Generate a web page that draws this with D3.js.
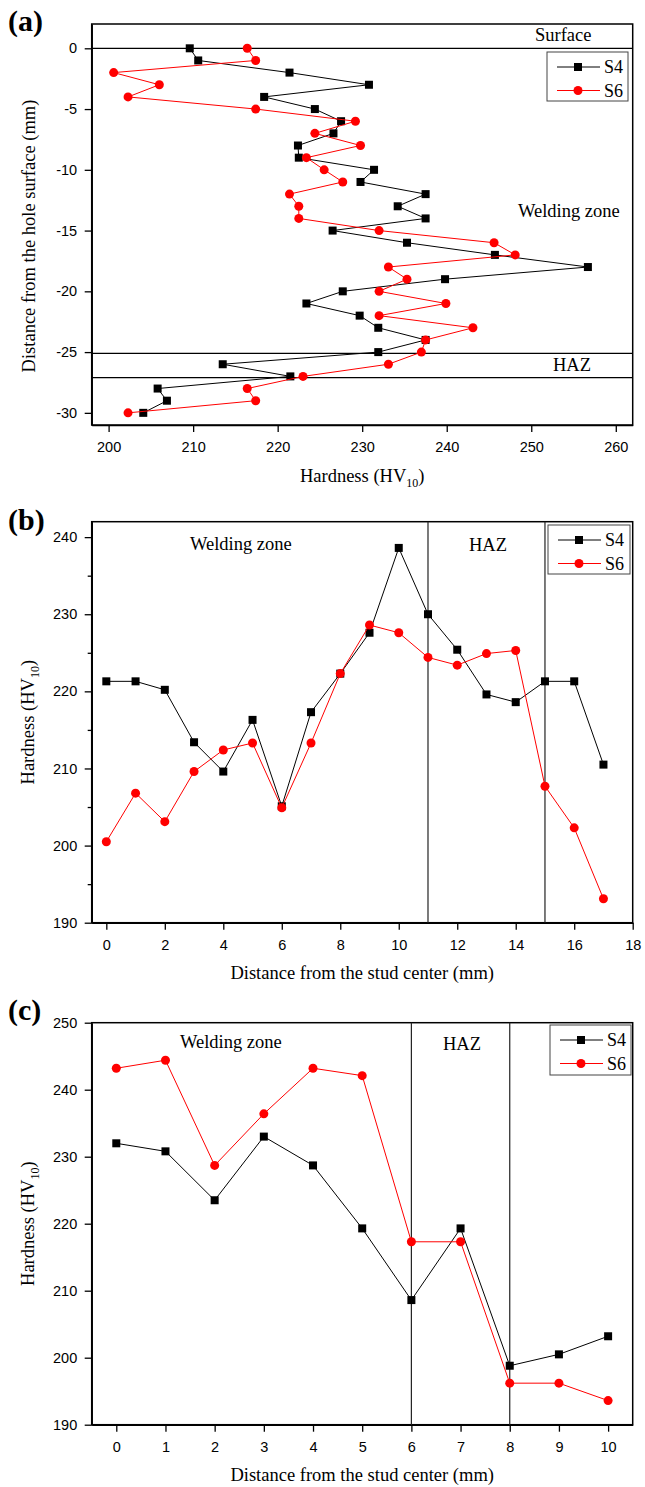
<!DOCTYPE html>
<html>
<head>
<meta charset="utf-8">
<script src="https://cdn.jsdelivr.net/npm/d3@7"></script>
<style>
  body { margin: 0; background: #fff; }
  .tick text { font-family: "Liberation Sans", Arial, sans-serif; font-size: 14.5px; fill: #000; }
  .serif { font-family: "Liberation Serif", "Times New Roman", serif; fill: #000; }
</style>
</head>
<body>
<script>
// ---- data ----
// (a) hardness along the depth below the hole surface
var depthA = [0, -1, -2, -3, -4, -5, -6, -7, -8, -9, -10, -11, -12, -13, -14, -15,
    -16, -17, -18, -19, -20, -21, -22, -23, -24, -25, -26, -27, -28, -29, -30];
var s4A = [209.6, 210.6, 221.4, 230.8, 218.4, 224.4, 227.5, 226.6, 222.4, 222.5, 231.4,
    229.8, 237.5, 234.2, 237.5, 226.5, 235.3, 245.7, 256.7, 239.8, 227.7, 223.4, 229.7,
    231.9, 237.5, 231.9, 213.5, 221.5, 205.8, 206.9, 204.1];
var s6A = [216.4, 217.4, 200.6, 206.0, 202.3, 217.4, 229.2, 224.4, 229.8, 223.4, 225.5,
    227.7, 221.4, 222.5, 222.5, 232.0, 245.6, 248.1, 233.1, 235.3, 232.0, 239.9, 232.0,
    243.1, 237.5, 237.0, 233.1, 223.0, 216.4, 217.4, 202.3];
var zoneLinesA = [0, -25.1, -27.1];
var xTicksA = [200, 210, 220, 230, 240, 250, 260];
var yTicksA = [0, -5, -10, -15, -20, -25, -30];

// (b) hardness from the stud center
var distB = [0, 1, 2, 3, 4, 5, 6, 7, 8, 9, 10, 11, 12, 13, 14, 15, 16, 17];
var s4B = [221.3, 221.3, 220.2, 213.4, 209.6, 216.3, 205.1, 217.3, 222.3, 227.6, 238.6,
    230.0, 225.4, 219.6, 218.6, 221.3, 221.3, 210.5];
var s6B = [200.5, 206.8, 203.1, 209.6, 212.4, 213.3, 204.9, 213.3, 222.3, 228.6, 227.6,
    224.4, 223.4, 224.9, 225.3, 207.7, 202.3, 193.1];
var zoneLinesB = [11, 15];
var xTicksB = [0, 2, 4, 6, 8, 10, 12, 14, 16, 18];
var yTicksB = [190, 200, 210, 220, 230, 240];
var yMinorB = [195, 205, 215, 225, 235];

// (c)
var distC = [0, 1, 2, 3, 4, 5, 6, 7, 8, 9, 10];
var s4C = [232.0, 230.8, 223.5, 233.0, 228.7, 219.3, 208.6, 219.3, 198.8, 200.5, 203.2];
var s6C = [243.2, 244.4, 228.7, 236.4, 243.2, 242.1, 217.3, 217.3, 196.2, 196.2, 193.6];
var zoneLinesC = [6, 8];
var xTicksC = [0, 1, 2, 3, 4, 5, 6, 7, 8, 9, 10];
var yTicksC = [190, 200, 210, 220, 230, 240, 250];

var seriesNames = ["S4", "S6"];
var colors = ["#000000", "#ff0000"];

// ---- drawing ----
var svg = d3.select("body").append("svg")
    .attr("width", 645)
    .attr("height", 1487);

var L = 91.7, R = 632.7;

function hardnessTitle(sel) {
    sel.append("tspan").text("Hardness (HV");
    sel.append("tspan").attr("dy", 5).style("font-size", "12px").text("10");
    sel.append("tspan").attr("dy", -5).text(")");
}

function markers(g, pts, kind, color, size) {
    if (kind === "square") {
        g.selectAll(null).data(pts).enter().append("rect")
            .attr("x", function(d) { return d[0] - size / 2; })
            .attr("y", function(d) { return d[1] - size / 2; })
            .attr("width", size).attr("height", size)
            .attr("fill", color);
    } else {
        g.selectAll(null).data(pts).enter().append("circle")
            .attr("cx", function(d) { return d[0]; })
            .attr("cy", function(d) { return d[1]; })
            .attr("r", size / 2)
            .attr("fill", color);
    }
}

function series(g, pts, i) {
    g.append("path")
        .attr("d", d3.line()(pts))
        .attr("fill", "none")
        .attr("stroke", colors[i])
        .attr("stroke-width", 1);
    markers(g, pts, i === 0 ? "square" : "circle", colors[i], i === 0 ? 8 : 9);
}

function legend(x0, y0, w, h) {
    var g = svg.append("g").attr("transform", "translate(" + x0 + "," + y0 + ")");
    g.append("rect").attr("width", w).attr("height", h)
        .attr("fill", "#fff").attr("stroke", "#444").attr("stroke-width", 1);
    seriesNames.forEach(function(name, i) {
        var yy = 15 + i * 23.5;
        g.append("line").attr("x1", 10).attr("x2", 53).attr("y1", yy).attr("y2", yy)
            .attr("stroke", colors[i]).attr("stroke-width", 1);
        markers(g, [[31, yy]], i === 0 ? "square" : "circle", colors[i], i === 0 ? 8 : 9);
        g.append("text").attr("class", "serif").attr("x", 57).attr("y", yy + 6)
            .style("font-size", "18px").text(name);
    });
}

function styleAxis(g) {
    g.selectAll(".domain").attr("stroke-width", 1.5);
    g.selectAll(".tick line").attr("stroke-width", 1.3);
}

function frame(top, bottom) {
    svg.append("rect")
        .attr("x", L).attr("y", top)
        .attr("width", R - L).attr("height", bottom - top)
        .attr("fill", "none").attr("stroke", "#000").attr("stroke-width", 1.5);
}

function note(x, y, txt) {
    svg.append("text").attr("class", "serif").attr("x", x).attr("y", y)
        .style("font-size", "18.5px").text(txt);
}

function panelLabel(y, txt) {
    svg.append("text").attr("class", "serif").attr("x", 8).attr("y", y)
        .style("font-size", "30px").style("font-weight", "bold").text(txt);
}

// ===== panel (a) =====
var topA = 24, botA = 425;
var xA = d3.scaleLinear().domain([198, 262]).range([L, R]);
var yA = d3.scaleLinear().domain([-31, 2]).range([botA, topA]);

svg.append("g").attr("transform", "translate(0," + botA + ")")
    .call(d3.axisBottom(xA).tickValues(xTicksA).tickSize(7).tickSizeOuter(0).tickPadding(10))
    .call(styleAxis);
svg.append("g").attr("transform", "translate(" + L + ",0)")
    .call(d3.axisLeft(yA).tickValues(yTicksA).tickSize(7).tickSizeOuter(0).tickPadding(7.5)
        .tickFormat(function(d) { return String(d); }))
    .call(styleAxis);
frame(topA, botA);

svg.selectAll(null).data(zoneLinesA).enter().append("line")
    .attr("x1", L).attr("x2", R)
    .attr("y1", function(d) { return yA(d); })
    .attr("y2", function(d) { return yA(d); })
    .attr("stroke", "#000").attr("stroke-width", 1.2);

var gA = svg.append("g");
[s4A, s6A].forEach(function(vals, i) {
    var pts = vals.map(function(v, k) { return [xA(v), yA(depthA[k])]; });
    series(gA, pts, i);
});

note(535, 41, "Surface");
note(518, 217, "Welding zone");
note(553, 371, "HAZ");
legend(547, 52, 81, 49);
panelLabel(31, "(a)");

svg.append("text").attr("class", "serif")
    .attr("x", (L + R) / 2).attr("y", 482)
    .attr("text-anchor", "middle").style("font-size", "18.5px")
    .call(hardnessTitle);
svg.append("text").attr("class", "serif")
    .attr("transform", "translate(35," + 236 + ") rotate(-90)")
    .attr("text-anchor", "middle").style("font-size", "18.5px")
    .text("Distance from the hole surface (mm)");

// ===== panels (b) and (c) =====
function stdPanel(top, bot, xDom, yDom, xTicks, yTicks, yMinor, dist, s4, s6, zones) {
    var x = d3.scaleLinear().domain(xDom).range([L, R]);
    var y = d3.scaleLinear().domain(yDom).range([bot, top]);

    svg.append("g").attr("transform", "translate(0," + bot + ")")
        .call(d3.axisBottom(x).tickValues(xTicks).tickSize(7).tickSizeOuter(0).tickPadding(10))
        .call(styleAxis);
    svg.append("g").attr("transform", "translate(" + L + ",0)")
        .call(d3.axisLeft(y).tickValues(yTicks).tickSize(7).tickSizeOuter(0).tickPadding(7.5))
        .call(styleAxis);
    if (yMinor) {
        svg.append("g").attr("transform", "translate(" + L + ",0)")
            .call(d3.axisLeft(y).tickValues(yMinor).tickSize(4).tickSizeOuter(0).tickFormat(""))
            .call(styleAxis);
    }
    frame(top, bot);

    svg.selectAll(null).data(zones).enter().append("line")
        .attr("x1", function(d) { return x(d); })
        .attr("x2", function(d) { return x(d); })
        .attr("y1", top).attr("y2", bot)
        .attr("stroke", "#222").attr("stroke-width", 1.2);

    var g = svg.append("g");
    [s4, s6].forEach(function(vals, i) {
        var pts = vals.map(function(v, k) { return [x(dist[k]), y(v)]; });
        series(g, pts, i);
    });

    svg.append("text").attr("class", "serif")
        .attr("x", (L + R) / 2).attr("y", bot + 56)
        .attr("text-anchor", "middle").style("font-size", "18.5px")
        .text("Distance from the stud center (mm)");
    svg.append("text").attr("class", "serif")
        .attr("transform", "translate(34," + (top + bot) / 2 + ") rotate(-90)")
        .attr("text-anchor", "middle").style("font-size", "18.5px")
        .call(hardnessTitle);
}

stdPanel(521.7, 922.7, [-0.5, 18], [190, 242], xTicksB, yTicksB, yMinorB, distB, s4B, s6B, zoneLinesB);
note(190, 550, "Welding zone");
note(469, 550.5, "HAZ");
legend(548, 525, 82, 49);
panelLabel(530, "(b)");

stdPanel(1022.7, 1424.7, [-0.5, 10.5], [190, 250], xTicksC, yTicksC, null, distC, s4C, s6C, zoneLinesC);
note(180, 1048, "Welding zone");
note(443, 1050, "HAZ");
legend(550, 1025, 81, 50);
panelLabel(1020, "(c)");
</script>
</body>
</html>
